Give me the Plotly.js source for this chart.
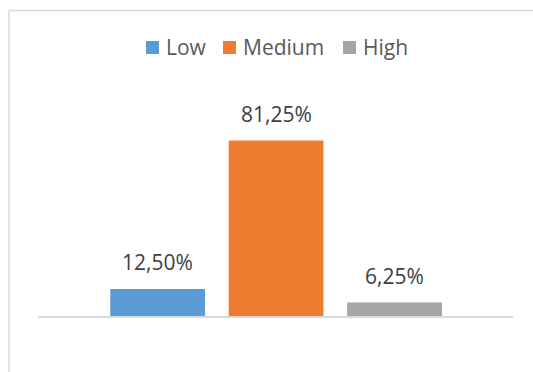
<!DOCTYPE html>
<html>
<head>
<meta charset="utf-8">
<script src="https://cdn.plot.ly/plotly-3.0.1.min.js"></script>
<style>
  html, body { margin: 0; padding: 0; background: #ffffff; }
  #chart { width: 533px; height: 372px; }
</style>
</head>
<body>
<div id="chart"></div>
<script>
// ---- data ----
const categories = ['Low', 'Medium', 'High'];
const values = [12.50, 81.25, 6.25];
const colors = ['#5B9BD5', '#ED7D31', '#A5A5A5'];

const fmt = v => v.toFixed(2).replace('.', ',') + '%';

// ---- geometry helpers (pixel -> paper) ----
const W = 533, H = 372;
const M = { l: 38, r: 20, t: 100, b: 56 };
const plotW = W - M.l - M.r, plotH = H - M.t - M.b;
const px = p => (p - M.l) / plotW;
const py = p => (H - M.b - p) / plotH;

const textFont = { family: 'Open Sans, sans-serif', size: 21, color: '#404040' };
const legendFont = { family: 'Open Sans, sans-serif', size: 21, color: '#595959' };

const traces = categories.map((c, i) => ({
  type: 'bar',
  name: c,
  x: [c],
  y: [values[i]],
  marker: { color: colors[i] },
  hoverinfo: 'skip',
  showlegend: false
}));

const annotations = categories.map((c, i) => ({
  x: c,
  y: values[i],
  xref: 'x',
  yref: 'y',
  text: fmt(values[i]),
  showarrow: false,
  yanchor: 'bottom',
  yshift: 11,
  font: textFont
}));

const borderColor = '#d9d9d9';
const shapes = [
  { type: 'line', xref: 'paper', yref: 'paper', x0: px(9), x1: px(9), y0: py(10.5), y1: py(380),
    line: { color: borderColor, width: 1.5 } },
  { type: 'line', xref: 'paper', yref: 'paper', x0: px(9), x1: px(540), y0: py(10.5), y1: py(10.5),
    line: { color: borderColor, width: 1.5 } }
];

// ---- custom legend (Excel style: small square close to its label) ----
const legendSquareX = [146, 223, 343];
const legendTop = 41, legendSize = 13;
categories.forEach((c, i) => {
  const x0 = legendSquareX[i];
  shapes.push({
    type: 'rect', xref: 'paper', yref: 'paper',
    x0: px(x0), x1: px(x0 + legendSize),
    y0: py(legendTop + legendSize), y1: py(legendTop),
    fillcolor: colors[i], line: { width: 0 }
  });
  annotations.push({
    xref: 'paper', yref: 'paper',
    x: px(x0 + legendSize + 5), y: py(legendTop + legendSize / 2),
    xanchor: 'left', yanchor: 'middle',
    text: c, showarrow: false,
    font: legendFont
  });
});

const layout = {
  width: W,
  height: H,
  margin: M,
  paper_bgcolor: '#ffffff',
  plot_bgcolor: '#ffffff',
  barmode: 'overlay',
  bargap: 0.2,
  font: textFont,
  xaxis: {
    type: 'category',
    categoryarray: categories,
    range: [-1.01, 3.0],
    showticklabels: false,
    showgrid: false,
    zeroline: false,
    showline: true,
    linecolor: '#d9d9d9',
    linewidth: 2,
    ticks: ''
  },
  yaxis: {
    range: [0, 100],
    visible: false,
    fixedrange: true
  },
  showlegend: false,
  annotations: annotations,
  shapes: shapes
};

Plotly.newPlot('chart', traces, layout, { staticPlot: true, displayModeBar: false });
</script>
</body>
</html>
